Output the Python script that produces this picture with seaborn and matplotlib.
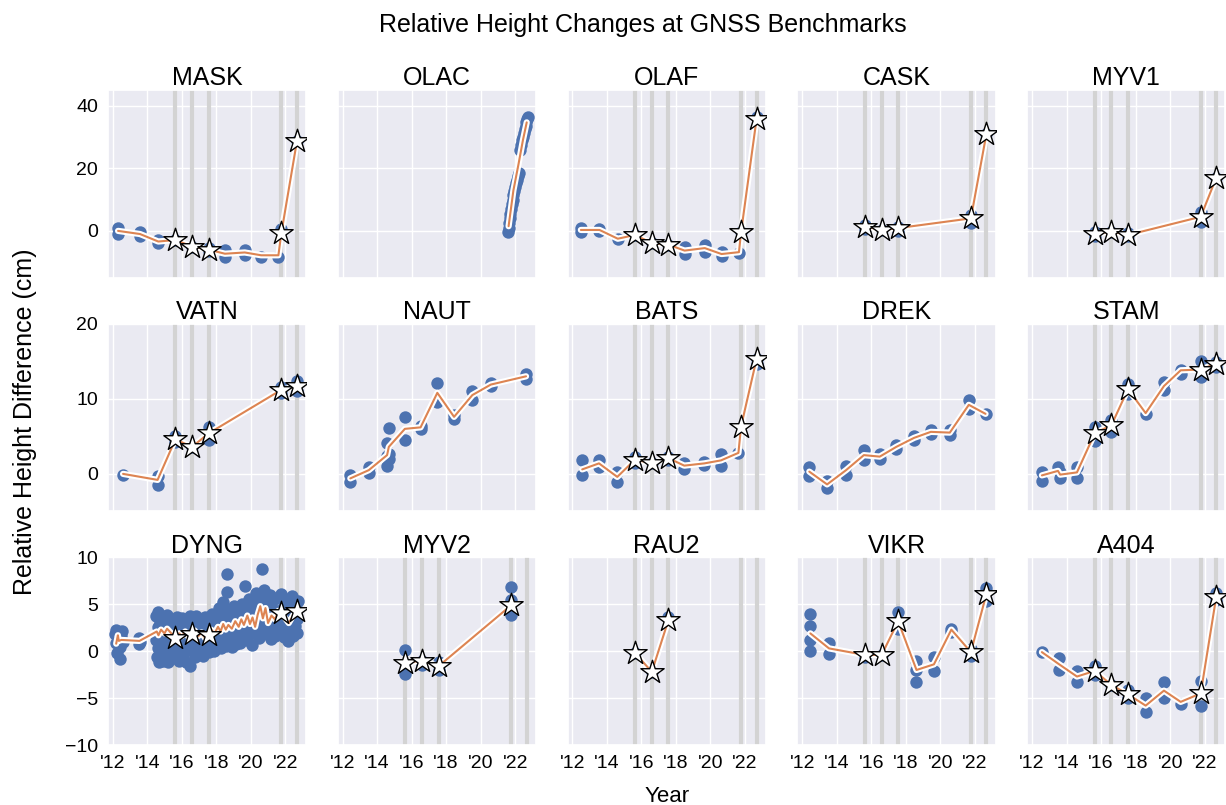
import numpy as np
import pandas as pd
import matplotlib
matplotlib.use('Agg')
import matplotlib.pyplot as plt
import matplotlib.patheffects as pe
import seaborn as sns

# campaign epochs (decimal years)
C1, C2, C3, C4, C5 = 2015.63, 2016.6, 2017.56, 2021.77, 2022.67
campaigns = [C1, C2, C3, C4, C5]

sites = ['MASK', 'OLAC', 'OLAF', 'CASK', 'MYV1',
         'VATN', 'NAUT', 'BATS', 'DREK', 'STAM',
         'DYNG', 'MYV2', 'RAU2', 'VIKR', 'A404']
star_sites = ['MASK', 'OLAF', 'CASK', 'MYV1', 'VATN', 'BATS', 'STAM',
              'DYNG', 'MYV2', 'RAU2', 'VIKR', 'A404']
row_ylims = [(-15, 45), (-5, 20), (-10, 10)]
row_yticks = [[0, 20, 40], [0, 10, 20], [-10, -5, 0, 5, 10]]
year_ticks = [2012, 2014, 2016, 2018, 2020, 2022]
year_labels = ["'12", "'14", "'16", "'18", "'20", "'22"]

# ---- epoch means (line) and single measurements (points), cm ----
mask_t = [2012.31, 2013.58, 2014.64, C1, C2, C3, 2018.5, 2019.65, 2020.6, 2021.6, C4, C5]
mask_v = [0.0, -1.0, -3.4, -2.9, -5.0, -6.0, -7.3, -6.9, -7.8, -7.8, -0.7, 28.6]
mask_pt = [2012.31, 2012.31, 2013.58, 2013.58, 2014.64, 2014.64, C1, C2, C3, C3,
           2018.5, 2018.5, 2019.65, 2019.65, 2020.6, 2021.6, C4, C5]
mask_pv = [0.9, -0.9, -0.5, -1.5, -3.0, -3.8, -2.9, -5.0, -5.5, -6.5,
           -6.2, -8.5, -6.2, -7.6, -8.2, -8.2, 0.5, 28.6]

olac_t = [2021.62, 2021.9, 2022.2, 2022.45, 2022.67]
olac_v = [1.5, 13.0, 21.5, 29.0, 34.7]
olac_pt = [2021.6, 2021.62, 2021.65, 2021.68, 2021.72, 2021.76, 2021.8, 2021.85,
           2021.9, 2021.95, 2022.0, 2022.05, 2022.1, 2022.15, 2022.2,
           2022.3, 2022.35, 2022.4, 2022.45, 2022.5, 2022.55, 2022.6, 2022.65,
           2022.7, 2022.73]
olac_pv = [-0.5, 0.8, 2.5, 4.0, 5.5, 7.0, 8.5, 10.0, 11.5, 12.8, 14.0, 15.2,
           16.4, 17.5, 18.5, 26.0, 27.5, 29.0, 30.0, 31.2, 32.5, 33.5, 34.8,
           35.8, 36.3]

olaf_t = [2012.49, 2013.57, 2014.63, C1, C2, C3, 2018.5, 2019.67, 2020.64, 2021.65, C4, C5]
olaf_v = [0.3, 0.3, -2.5, -1.3, -3.9, -4.4, -6.3, -5.5, -7.4, -6.8, -0.5, 35.8]
olaf_pt = [2012.49, 2012.49, 2013.57, 2013.57, 2014.63, C1, C2, C3, 2018.5, 2018.5,
           2019.67, 2019.67, 2020.64, 2020.64, 2021.65, C4, C5]
olaf_pv = [0.9, -0.3, 0.6, 0.0, -2.5, -1.3, -3.9, -4.4, -5.3, -7.4,
           -4.4, -6.6, -6.9, -7.9, -7.1, -0.5, 36.3]

cask_t = [C1, C2, C3, C4, C5]
cask_v = [1.4, 0.3, 0.9, 4.0, 31.0]
cask_pt = [C1, C1, C2, C3, C3, C4, C4, C5]
cask_pv = [1.8, 0.7, 0.3, 1.1, 0.1, 5.0, 2.6, 31.0]

myv1_t = [C1, C2, C3, C4, C5]
myv1_v = [-1.0, -0.2, -1.3, 4.5, 17.0]
myv1_pt = [C1, C1, C2, C3, C3, C4, C4, C5]
myv1_pv = [-0.5, -1.7, -0.2, -0.8, -1.6, 6.2, 3.0, 17.0]

vatn_t = [2012.6, 2014.6, C1, C2, C3, C4, C5]
vatn_v = [0.0, -0.8, 4.6, 3.6, 5.4, 11.2, 11.7]
vatn_pt = [2012.6, 2014.6, 2014.6, C1, C1, C2, C3, C3, C4, C4, C5, C5]
vatn_pv = [-0.2, -0.3, -1.5, 5.0, 4.2, 3.6, 6.3, 4.5, 11.6, 10.8, 12.4, 11.0]

naut_t = [2012.45, 2013.52, 2014.58, 2014.68, 2015.61, 2016.52, 2017.49, 2018.46,
          2019.52, 2020.59, 2022.63]
naut_v = [-0.6, 0.5, 2.5, 3.6, 6.0, 6.2, 10.8, 7.6, 10.5, 11.9, 13.0]
naut_pt = [2012.45, 2012.45, 2013.52, 2013.52, 2014.58, 2014.58, 2014.58,
           2014.68, 2014.68, 2014.68, 2015.61, 2015.61, 2016.52, 2016.52,
           2017.49, 2017.49, 2018.46, 2018.46, 2019.52, 2019.52, 2020.59,
           2020.59, 2022.63, 2022.63]
naut_pv = [-0.1, -1.1, 0.9, 0.1, 1.0, 2.4, 4.1, 2.0, 6.1, 2.7, 7.6, 4.5,
           6.4, 6.0, 12.1, 9.6, 7.3, 7.9, 11.1, 9.9, 12.1, 11.7, 13.3, 12.7]

bats_t = [2012.57, 2013.54, 2014.6, C1, C2, C3, 2018.48, 2019.65, 2020.61, 2021.62, C4, C5]
bats_v = [0.6, 1.4, -0.4, 1.9, 1.4, 2.1, 1.1, 1.4, 1.8, 2.8, 6.3, 15.3]
bats_pt = [2012.57, 2012.57, 2013.54, 2013.54, 2014.6, 2014.6, C1, C1, C2, C3, C3,
           2018.48, 2018.48, 2019.65, 2019.65, 2020.61, 2020.61, 2021.62, C5, C5]
bats_pv = [1.8, -0.2, 1.9, 0.9, 0.3, -1.1, 2.3, 1.5, 1.4, 2.3, 1.9,
           1.5, 0.7, 1.6, 1.2, 2.6, 1.0, 2.8, 15.3, 14.6]

drek_t = [2012.41, 2013.44, 2014.54, 2015.57, 2016.49, 2017.45, 2018.48, 2019.45,
          2020.55, 2021.65, 2022.62]
drek_v = [0.3, -1.4, 0.5, 2.5, 2.3, 3.6, 4.8, 5.6, 5.5, 9.2, 8.0]
drek_pt = [2012.41, 2012.41, 2013.44, 2013.44, 2014.54, 2014.54, 2015.57, 2015.57,
           2016.49, 2016.49, 2017.45, 2017.45, 2018.48, 2018.48, 2019.45, 2019.45,
           2020.55, 2020.55, 2021.65, 2021.65, 2022.62]
drek_pv = [0.9, -0.3, -1.0, -1.9, 1.1, -0.1, 3.2, 1.8, 2.6, 2.0, 3.9, 3.3,
           5.1, 4.5, 5.9, 5.3, 5.2, 5.8, 9.8, 8.6, 8.0]

stam_t = [2012.57, 2013.5, 2013.63, 2014.6, C1, C2, C3, 2018.58, 2019.64, 2020.61, C4, C5]
stam_v = [-0.2, 0.4, -0.1, 0.2, 5.4, 6.5, 11.3, 8.1, 11.7, 13.8, 13.9, 14.7]
stam_pt = [2012.57, 2012.57, 2013.5, 2013.63, 2013.63, 2014.6, 2014.6, C1, C1,
           C2, C2, C3, C3, 2018.58, 2019.64, 2019.64, 2020.61, 2020.61, C4, C4, C5, C5]
stam_pv = [0.3, -1.0, 0.9, 0.3, -0.6, 0.9, -0.5, 6.2, 4.4, 7.2, 5.6, 12.0, 10.6,
           8.0, 12.2, 11.2, 13.9, 13.3, 15.0, 12.9, 14.9, 14.3]

dyng_t = [2012.2, 2012.3, 2012.35, 2012.5, 2013.55, 2014.55, 2014.65, 2014.8, 2015.0,
          2015.15, 2015.35, C1, 2015.85, 2016.0, 2016.2, 2016.4, C2, 2016.75, 2016.95,
          2017.15, 2017.35, C3, 2017.7, 2017.9, 2018.1, 2018.25, 2018.4, 2018.55,
          2018.7, 2018.9, 2019.1, 2019.3, 2019.45, 2019.6, 2019.8, 2019.95, 2020.1,
          2020.25, 2020.4, 2020.55, 2020.7, 2020.85, 2021.0, 2021.2, 2021.4, 2021.6,
          C4, 2022.0, 2022.2, 2022.45, C5]
dyng_v = [0.8, 1.7, 1.1, 1.2, 1.1, 2.1, 1.7, 2.3, 1.9, 2.4, 2.0, 1.4, 1.9, 1.6, 2.1,
          1.5, 1.8, 2.2, 1.6, 2.0, 1.4, 1.7, 2.3, 1.9, 2.6, 2.1, 2.9, 2.3, 2.8, 2.4,
          3.2, 2.6, 3.4, 2.8, 3.8, 2.9, 3.6, 2.6, 3.9, 4.8, 3.5, 4.6, 3.0, 3.8, 3.4,
          4.3, 4.1, 3.5, 3.0, 3.8, 4.3]
dyng_pt = [2012.15, 2012.2, 2012.2, 2012.25, 2012.3, 2012.35, 2012.4, 2012.45, 2012.5,
           2012.55, 2012.6, 2013.5, 2013.55, 2013.6,
           2014.5, 2014.52, 2014.55, 2014.6, 2014.62, 2014.65, 2014.7, 2014.72, 2014.75,
           2014.8, 2014.82, 2014.85, 2014.9, 2014.92, 2014.95, 2015.0, 2015.02, 2015.05,
           2015.1, 2015.12, 2015.15, 2015.2, 2015.22, 2015.25, 2015.3, 2015.35, 2015.4,
           2015.45, 2015.5, 2015.55, 2015.6, 2015.65, 2015.7,
           2015.75, 2015.8, 2015.85, 2015.9, 2015.95, 2016.0, 2016.05, 2016.1, 2016.15,
           2016.2, 2016.25, 2016.3, 2016.35, 2016.4, 2016.45, 2016.5, 2016.55, 2016.6,
           2016.65, 2016.7, 2016.75, 2016.8, 2016.85, 2016.9, 2016.95, 2017.0, 2017.05,
           2017.1, 2017.15, 2017.2, 2017.25, 2017.3, 2017.35, 2017.4, 2017.45, 2017.5,
           2017.55, 2017.6, 2017.65, 2017.7, 2017.75, 2017.8, 2017.85, 2017.9, 2017.95,
           2018.0, 2018.05, 2018.1, 2018.15, 2018.2, 2018.25, 2018.3, 2018.35, 2018.4,
           2018.45, 2018.5, 2018.55, 2018.6, 2018.65, 2018.65, 2018.7, 2018.75, 2018.8,
           2018.85, 2018.9, 2018.95, 2019.0, 2019.05, 2019.1, 2019.15, 2019.2, 2019.25,
           2019.3, 2019.35, 2019.4, 2019.45,
           2019.5, 2019.55, 2019.6, 2019.65, 2019.7, 2019.75, 2019.8, 2019.85, 2019.9,
           2019.95, 2020.0, 2020.05, 2020.1, 2020.15, 2020.2, 2020.25, 2020.3, 2020.35,
           2020.4, 2020.45, 2020.5, 2020.55, 2020.6, 2020.65, 2020.7, 2020.75, 2020.8,
           2020.85, 2020.9,
           2020.95, 2021.0, 2021.05, 2021.1, 2021.15, 2021.2, 2021.25, 2021.3, 2021.35,
           2021.4, 2021.45, 2021.5, 2021.55, 2021.6, 2021.65, 2021.7, 2021.75, 2021.8,
           2021.85, 2021.9, 2021.95, 2022.0, 2022.05, 2022.1, 2022.15, 2022.2, 2022.25,
           2022.3, 2022.35, 2022.4, 2022.45, 2022.5, 2022.55, 2022.6, 2022.65, 2022.7,
           2022.72]
dyng_pv = [1.8, 0.9, 2.3, -0.2, 2.1, 1.2, -0.8, 0.5, 1.6, 2.2, 1.0, 1.4, 0.8, 1.0,
           3.8, 1.2, -0.6, 2.6, 4.2, 0.3, -1.1, 3.1, 1.8,
           -0.2, 2.4, 3.6, 0.9, -1.0, 2.0, 3.3, 0.4, 1.5,
           -0.5, 2.8, 3.9, 1.1, -1.2, 2.2, 0.0, 3.0, 1.6,
           -0.7, 2.5, 0.8, 3.4, -0.3, 1.9,
           3.6, 0.2, -1.0, 2.7, 1.3, 3.5, -0.4, 2.0, 0.6,
           3.1, -1.2, 1.7, 2.6, 0.1, 3.7, -1.6, 1.0, 2.3,
           0.4, 3.0, -0.6, 1.9, 3.8, 0.7, 2.4, -0.2, 1.4,
           3.3, 0.9, 2.1, -0.5, 1.2, 3.6, 0.3, 2.8, 1.6,
           -0.1, 3.2, 0.8, 2.5, 4.0, 1.1, 0.0, 2.9, 1.8,
           3.7, 0.5, 2.2, 4.6, 1.3, 3.0, 0.3, 2.6, 5.2,
           1.5, 3.9, 0.6, 2.8, 8.2, 6.3, 4.3, 1.0, 2.4,
           3.6, 0.4, 2.0, 4.8, 1.7, 3.2, 0.8, 2.7, 4.1,
           1.4, 3.4, 0.9, 2.3,
           5.0, 1.8, 3.8, 6.9, 2.6, 4.5, 1.2, 3.3, 5.6,
           2.1, 4.2, 0.7, 3.0, 5.3, 1.9, 3.9, 6.2, 2.4,
           4.7, 1.4, 3.5, 5.8, 2.8, 8.8, 4.4, 6.5, 2.2,
           5.1, 3.6,
           1.8, 4.8, 2.9, 6.0, 1.3, 3.8, 5.4, 2.3, 4.4,
           1.6, 3.2, 5.7, 2.6, 4.1, 1.9, 3.5, 6.1, 2.8,
           4.6, 1.5, 3.9, 5.5, 2.4, 4.2, 1.1, 3.0, 5.2,
           2.0, 3.7, 5.9, 1.6, 4.5, 2.7, 5.0, 1.9, 3.4,
           5.4]

myv2_t = [C1, C2, C3, C4]
myv2_v = [-1.25, -1.0, -1.6, 4.9]
myv2_pt = [C1, C1, C2, C2, C3, C3, C4, C4, C4]
myv2_pv = [0.1, -2.4, -1.0, -1.5, -1.2, -2.0, 6.8, 5.5, 3.9]

rau2_t = [C1, C2, C3]
rau2_v = [-0.2, -2.2, 3.3]
rau2_pt = [C1, C2, C3]
rau2_pv = [-0.2, -2.2, 3.6]

vikr_t = [2012.47, 2013.55, C1, C2, C3, 2018.62, 2019.63, 2020.64, C4, C5]
vikr_v = [1.9, 0.3, -0.4, -0.4, 3.2, -2.0, -1.4, 2.3, -0.1, 6.1]
vikr_pt = [2012.47, 2012.47, 2012.47, 2012.47, 2013.55, 2013.55, C1, C2, C3, C3,
           2018.62, 2018.62, 2018.62, 2019.63, 2019.63, 2020.64, 2020.64, C4, C4, C5, C5]
vikr_pv = [4.0, 2.7, 1.2, 0.0, 0.9, -0.3, -0.6, -0.4, 4.2, 2.4,
           -1.0, -3.3, -2.0, -0.6, -2.1, 2.4, 2.0, -0.5, 0.2, 6.7, 5.4]

a404_t = [2012.57, 2013.57, 2014.6, C1, C2, C3, 2018.58, 2019.64, 2020.61, C4, C5]
a404_v = [-0.1, -1.4, -2.7, -2.1, -3.6, -4.6, -5.8, -4.2, -5.4, -4.5, 5.8]
a404_pt = [2012.57, 2013.57, 2013.57, 2014.6, 2014.6, C1, C1, C2, C3, C3,
           2018.58, 2018.58, 2019.64, 2019.64, 2020.61, C4, C4, C5, C5]
a404_pv = [-0.1, -0.7, -2.0, -2.1, -3.3, -1.6, -2.5, -3.6, -4.1, -5.0,
           -5.0, -6.5, -3.3, -5.0, -5.6, -3.2, -5.8, 6.2, 5.5]

line_data = {
    'MASK': (mask_t, mask_v), 'OLAC': (olac_t, olac_v), 'OLAF': (olaf_t, olaf_v),
    'CASK': (cask_t, cask_v), 'MYV1': (myv1_t, myv1_v), 'VATN': (vatn_t, vatn_v),
    'NAUT': (naut_t, naut_v), 'BATS': (bats_t, bats_v), 'DREK': (drek_t, drek_v),
    'STAM': (stam_t, stam_v), 'DYNG': (dyng_t, dyng_v), 'MYV2': (myv2_t, myv2_v),
    'RAU2': (rau2_t, rau2_v), 'VIKR': (vikr_t, vikr_v), 'A404': (a404_t, a404_v),
}
point_data = {
    'MASK': (mask_pt, mask_pv), 'OLAC': (olac_pt, olac_pv), 'OLAF': (olaf_pt, olaf_pv),
    'CASK': (cask_pt, cask_pv), 'MYV1': (myv1_pt, myv1_pv), 'VATN': (vatn_pt, vatn_pv),
    'NAUT': (naut_pt, naut_pv), 'BATS': (bats_pt, bats_pv), 'DREK': (drek_pt, drek_pv),
    'STAM': (stam_pt, stam_pv), 'DYNG': (dyng_pt, dyng_pv), 'MYV2': (myv2_pt, myv2_pv),
    'RAU2': (rau2_pt, rau2_pv), 'VIKR': (vikr_pt, vikr_pv), 'A404': (a404_pt, a404_pv),
}

lines = pd.concat([pd.DataFrame({'site': s, 'year': t, 'dh': v})
                   for s, (t, v) in line_data.items()], ignore_index=True)
points = pd.concat([pd.DataFrame({'site': s, 'year': t, 'dh': v})
                    for s, (t, v) in point_data.items()], ignore_index=True)

sns.set_theme(style='darkgrid')
plt.rcParams['font.family'] = ['Liberation Sans', 'DejaVu Sans']
plt.rcParams.update({'text.color': 'black', 'axes.labelcolor': 'black',
                     'xtick.color': 'black', 'ytick.color': 'black'})

fig, axes = plt.subplots(3, 5, figsize=(12.26, 8.05), dpi=100,
                         sharex=True, sharey='row')
fig.subplots_adjust(left=0.088, right=0.9995, top=0.888, bottom=0.0745,
                    wspace=0.16, hspace=0.245)

blue, orange = sns.color_palette('deep')[0], sns.color_palette('deep')[1]

for i, (ax, site) in enumerate(zip(axes.flat, sites)):
    p = points[points.site == site]
    l = lines[lines.site == site]
    if site in star_sites:
        for c in campaigns:
            ax.axvline(c, color='lightgrey', lw=3, zorder=1)
    sns.scatterplot(data=p, x='year', y='dh', ax=ax, s=80, color=blue,
                    linewidth=0, zorder=2)
    sns.lineplot(data=l, x='year', y='dh', ax=ax, color=orange, lw=1.5,
                 estimator=None, sort=False, zorder=3,
                 path_effects=[pe.Stroke(linewidth=4.5, foreground='white'),
                               pe.Normal()])
    if site in star_sites:
        st = l[l.year.isin(campaigns)]
        sns.scatterplot(data=st, x='year', y='dh', ax=ax, marker='*', s=310,
                        color='white', edgecolor='black', linewidth=1, zorder=4)
    ax.set_title(site, fontsize=18, pad=3)
    ax.set_xlabel('')
    ax.set_ylabel('')
    ax.tick_params(labelsize=14, length=0, pad=7)
    row = i // 5
    ax.set_ylim(*row_ylims[row])
    ax.set_yticks(row_yticks[row])

ax.set_xlim(2011.72, 2023.2)
ax.set_xticks(year_ticks)
ax.set_xticklabels(year_labels)

fig.suptitle('Relative Height Changes at GNSS Benchmarks', fontsize=18,
             x=0.524, y=0.969, va='center')
fig.supxlabel('Year', fontsize=16, x=0.544, y=0.011, va='center')
fig.supylabel('Relative Height Difference (cm)', fontsize=18, x=0.011, y=0.476,
              va='center')

fig.savefig('out.png', dpi=100)
